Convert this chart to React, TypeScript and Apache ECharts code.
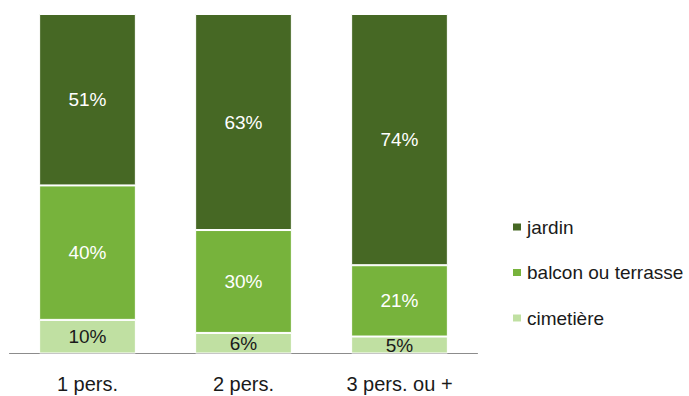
import React, { useEffect, useRef } from "react";
import * as echarts from "echarts";

const categories = ["1 pers.", "2 pers.", "3 pers. ou +"];
const jardin = [51, 63, 74];
const balcon = [40, 30, 21];
const cimetiere = [10, 6, 5];

const seriesDefs = [
  { name: "cimetière", values: cimetiere, color: "#c0e0a2", labelColor: "#1a1a1a" },
  { name: "balcon ou terrasse", values: balcon, color: "#77b33c", labelColor: "#ffffff" },
  { name: "jardin", values: jardin, color: "#466824", labelColor: "#ffffff" },
];

// each column is scaled to 100% while labels keep the rounded shares
const totals = categories.map((_, i) => seriesDefs.reduce((s, d) => s + d.values[i], 0));

export default function App() {
  const ref = useRef<HTMLDivElement>(null);
  useEffect(() => {
    if (!ref.current) return;
    const chart = echarts.init(ref.current, null, { renderer: "svg" });
    const font = "'Liberation Sans', Arial, sans-serif";
    chart.setOption({
      animation: false,
      grid: { left: 9.5, right: 211.5, top: 14, bottom: 42.5 },
      legend: {
        orient: "vertical",
        left: 506,
        top: 212,
        itemWidth: 10,
        itemHeight: 9,
        itemGap: 25.5,
        icon: "rect",
        data: ["jardin", "balcon ou terrasse", "cimetière"],
        textStyle: { fontFamily: font, fontSize: 19, color: "#1a1a1a", lineHeight: 20 },
      },
      xAxis: {
        type: "category",
        data: categories,
        axisTick: { show: false },
        axisLine: { lineStyle: { color: "#8c8c8c", width: 1 } },
        axisLabel: {
          interval: 0,
          fontFamily: font,
          fontSize: 20,
          color: "#1a1a1a",
          margin: 20,
          lineHeight: 20,
        },
      },
      yAxis: { type: "value", min: 0, max: 100, show: false, splitLine: { show: false } },
      series: seriesDefs.map((d) => ({
        name: d.name,
        type: "bar",
        stack: "total",
        barWidth: "62%",
        itemStyle: { color: d.color, borderColor: "#ffffff", borderWidth: 1 },
        label: {
          show: true,
          position: "inside",
          fontFamily: font,
          fontSize: 19,
          color: d.labelColor,
          formatter: (p: any) => p.data.raw + "%",
        },
        data: d.values.map((v, i) => ({ value: (v / totals[i]) * 100, raw: v })),
      })),
    });
    return () => chart.dispose();
  }, []);
  return <div ref={ref} style={{ width: 689, height: 396, position: "absolute", left: 0, top: 0 }} />;
}
